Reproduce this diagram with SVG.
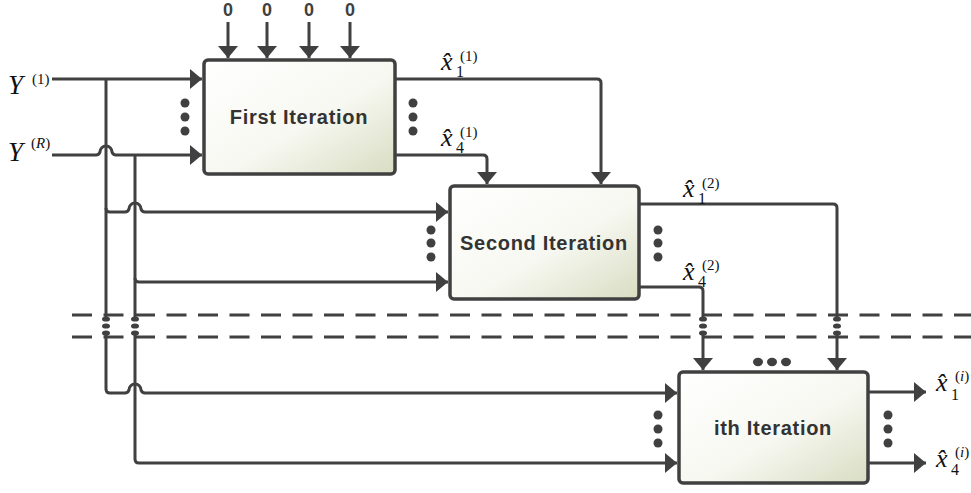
<svg xmlns="http://www.w3.org/2000/svg" width="971" height="493" viewBox="0 0 971 493">
  <defs>
    <linearGradient id="boxFill" x1="0" y1="0" x2="1" y2="1">
      <stop offset="0" stop-color="#ffffff"/>
      <stop offset="0.55" stop-color="#f7f8f1"/>
      <stop offset="1" stop-color="#d8ddc2"/>
    </linearGradient>
    <marker id="arrow" markerUnits="userSpaceOnUse" viewBox="0 0 12 20" markerWidth="12" markerHeight="20" refX="12" refY="10" orient="auto">
      <path d="M0 0 L12 10 L0 20 Z" fill="#404040"/>
    </marker>
    <style>
      .box { fill: url(#boxFill); stroke: #404040; stroke-width: 3.5; }
      .title { font-family: "Liberation Sans", Arial, sans-serif; font-weight: bold; font-size: 20px; letter-spacing: 0.7px; fill: #333333; text-anchor: middle; }
      .wire { fill: none; stroke: #404040; stroke-width: 3; stroke-linejoin: round; }
      .arr { marker-end: url(#arrow); }
      .dash { fill: none; stroke: #404040; stroke-width: 3; stroke-dasharray: 20 11.5; }
      .dot { fill: #404040; }
      .zero { font-family: "Liberation Sans", Arial, sans-serif; font-weight: bold; font-size: 18px; fill: #404040; text-anchor: middle; }
      .lbl { font-family: "Liberation Serif", "Times New Roman", serif; fill: #111111; }
      .it { font-style: italic; }
      .big { font-size: 27px; }
      .est { font-size: 26px; }
      .sub { font-size: 16px; }
      .sup { font-size: 15px; }
    </style>
  </defs>

  <!-- iteration blocks -->
  <g id="first-iteration">
    <rect class="box" x="204" y="60" width="191" height="114" rx="4"/>
    <text class="title" x="299" y="124">First Iteration</text>
  </g>
  <g id="second-iteration">
    <rect class="box" x="450" y="186" width="189" height="113" rx="4"/>
    <text class="title" x="544" y="250">Second Iteration</text>
  </g>
  <g id="ith-iteration">
    <rect class="box" x="679" y="372" width="189" height="111" rx="4"/>
    <text class="title" x="773" y="435">ith Iteration</text>
  </g>

  <!-- wiring -->
  <g id="connectors">
    <!-- zero initial inputs -->
    <path class="wire arr" d="M228 22 V58"/>
    <path class="wire arr" d="M267 22 V58"/>
    <path class="wire arr" d="M309 22 V58"/>
    <path class="wire arr" d="M350 22 V58"/>

    <!-- received signals into first block -->
    <path class="wire arr" d="M52 79 H202"/>
    <path class="wire arr" d="M52 155 H96 q3 0 4 -3 a6 6 0 0 1 12 0 q1 3 4 3 H202"/>

    <!-- Y(1) bus -->
    <path class="wire" d="M106 79 V317"/>
    <path class="wire arr" d="M106 335 V389 Q106 393 110 393 H125 q3 0 4 -3 a6 6 0 0 1 12 0 q1 3 4 3 H677"/>
    <path class="wire arr" d="M106 208 Q106 212 110 212 H125 q3 0 4 -3 a6 6 0 0 1 12 0 q1 3 4 3 H448"/>

    <!-- Y(R) bus -->
    <path class="wire" d="M135 155 V317"/>
    <path class="wire arr" d="M135 335 V459 Q135 463 139 463 H677"/>
    <path class="wire arr" d="M135 278 Q135 282 139 282 H448"/>

    <!-- first block to second block -->
    <path class="wire arr" d="M395 79 H597 Q601 79 601 83 V184"/>
    <path class="wire arr" d="M395 155 H483 Q487 155 487 159 V184"/>

    <!-- second block towards ith block -->
    <path class="wire" d="M639 204 H833 Q837 204 837 208 V317"/>
    <path class="wire arr" d="M837 335 V370"/>
    <path class="wire" d="M639 287 H699 Q703 287 703 291 V317"/>
    <path class="wire arr" d="M703 335 V370"/>

    <!-- final estimates -->
    <path class="wire arr" d="M868 392 H926"/>
    <path class="wire arr" d="M868 463 H926"/>

    <!-- omitted iterations band -->
    <path class="dash" d="M72 315 H971"/>
    <path class="dash" d="M72 337 H971"/>

    <!-- vertical ellipses where the band cuts the wires -->
    <g class="dot">
      <ellipse cx="106" cy="319" rx="4" ry="2.6"/>
      <ellipse cx="106" cy="326" rx="4" ry="2.6"/>
      <ellipse cx="106" cy="333" rx="4" ry="2.6"/>
      <ellipse cx="135" cy="319" rx="4" ry="2.6"/>
      <ellipse cx="135" cy="326" rx="4" ry="2.6"/>
      <ellipse cx="135" cy="333" rx="4" ry="2.6"/>
      <ellipse cx="703" cy="319" rx="4" ry="2.6"/>
      <ellipse cx="703" cy="326" rx="4" ry="2.6"/>
      <ellipse cx="703" cy="333" rx="4" ry="2.6"/>
      <ellipse cx="837" cy="319" rx="4" ry="2.6"/>
      <ellipse cx="837" cy="326" rx="4" ry="2.6"/>
      <ellipse cx="837" cy="333" rx="4" ry="2.6"/>
    </g>
  </g>

  <!-- ellipsis dots beside the blocks -->
  <g id="ellipses" class="dot">
    <circle cx="185" cy="103" r="4.5"/><circle cx="185" cy="117" r="4.5"/><circle cx="185" cy="131" r="4.5"/>
    <circle cx="413" cy="103" r="4.5"/><circle cx="413" cy="117" r="4.5"/><circle cx="413" cy="131" r="4.5"/>
    <circle cx="431" cy="230" r="4.5"/><circle cx="431" cy="243" r="4.5"/><circle cx="431" cy="257" r="4.5"/>
    <circle cx="658" cy="230" r="4.5"/><circle cx="658" cy="243" r="4.5"/><circle cx="658" cy="257" r="4.5"/>
    <circle cx="658" cy="415" r="4.5"/><circle cx="658" cy="429" r="4.5"/><circle cx="658" cy="443" r="4.5"/>
    <circle cx="888" cy="415" r="4.5"/><circle cx="888" cy="429" r="4.5"/><circle cx="888" cy="443" r="4.5"/>
    <ellipse cx="758" cy="362" rx="5" ry="4.2"/><ellipse cx="772" cy="362" rx="5" ry="4.2"/><ellipse cx="786" cy="362" rx="5" ry="4.2"/>
  </g>

  <!-- labels -->
  <g id="labels">
    <text class="zero" x="228" y="16">0</text>
    <text class="zero" x="267" y="16">0</text>
    <text class="zero" x="309" y="16">0</text>
    <text class="zero" x="350" y="16">0</text>

    <text class="lbl it big" x="8" y="94">Y</text>
    <text class="lbl sup" x="32" y="84">(1)</text>
    <text class="lbl it big" x="8" y="161">Y</text>
    <text class="lbl sup" x="31" y="148">(<tspan class="it">R</tspan>)</text>

    <!-- estimates from the first block -->
    <text class="lbl it est" x="441" y="70">x̂</text>
    <text class="lbl sub" x="456" y="77">1</text>
    <text class="lbl sup" x="460" y="61">(1)</text>

    <text class="lbl it est" x="441" y="146">x̂</text>
    <text class="lbl sub" x="456" y="153">4</text>
    <text class="lbl sup" x="460" y="137">(1)</text>

    <!-- estimates from the second block -->
    <text class="lbl it est" x="683" y="197">x̂</text>
    <text class="lbl sub" x="698" y="204">1</text>
    <text class="lbl sup" x="702" y="188">(2)</text>

    <text class="lbl it est" x="683" y="280">x̂</text>
    <text class="lbl sub" x="698" y="287">4</text>
    <text class="lbl sup" x="702" y="270">(2)</text>

    <!-- estimates from the ith block -->
    <text class="lbl it est" x="936" y="391">x̂</text>
    <text class="lbl sub" x="951" y="400">1</text>
    <text class="lbl sup" x="955" y="381">(<tspan class="it">i</tspan>)</text>

    <text class="lbl it est" x="936" y="467">x̂</text>
    <text class="lbl sub" x="951" y="475">4</text>
    <text class="lbl sup" x="955" y="457">(<tspan class="it">i</tspan>)</text>
  </g>
</svg>
